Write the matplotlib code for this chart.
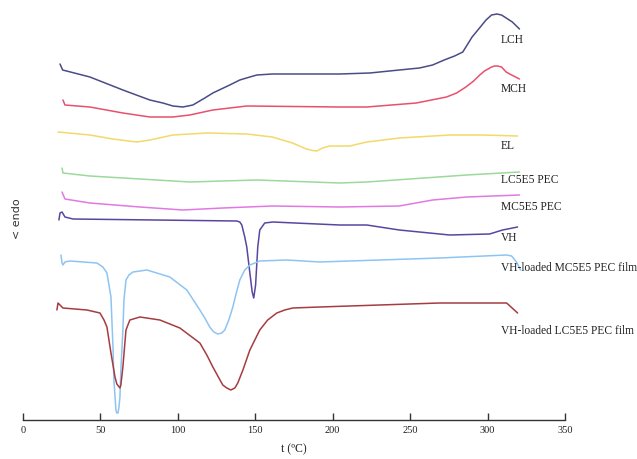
import numpy as np
import matplotlib.pyplot as plt

# DSC thermograms, heat flow in arbitrary units (curves stacked with offsets)
t_lch = [23.9, 25.6, 43.2, 64.5, 81.9, 90.3, 96.8, 103.2, 109.7, 113, 117.4, 122.6, 133.5, 140, 146.5, 151, 161, 204.5,
         224, 243, 256, 264.5, 272, 278.7, 284, 290, 294.8, 299, 302.6, 306, 309, 312, 316, 320.6]
q_lch = [356, 350, 343, 330, 320, 317, 314, 313, 315, 318, 322, 327, 335, 340, 343, 345, 346, 346,
         347, 350, 352, 355, 360, 364, 368, 383, 392, 400, 405, 406, 405, 402, 398, 391]

t_mch = [25.8, 27.1, 43.2, 64.5, 81.9, 96.8, 107.7, 122.6, 144.5, 204.5, 222, 254, 273.5, 280, 286, 291, 295, 298,
         302.6, 304.5, 306.5, 309, 312, 315.5, 320.6]
q_mch = [320, 315, 313, 307, 303, 303, 305, 310, 314, 313, 313, 317, 323, 327, 333, 339, 345, 349,
         353, 354, 354, 353, 348, 345, 341]

t_el = [22.6, 43.2, 58, 73.5, 82, 96.8, 118.7, 144.5, 161, 174, 183, 187, 189.7, 193.5, 198, 211, 222, 243, 275.5, 296.8, 319.4]
q_el = [288, 285, 281, 278, 280, 285, 287, 286, 283, 277, 271, 269.5, 269, 272, 274, 274, 278, 282, 285, 285, 284]

t_lc5e5 = [25.2, 25.8, 43.2, 75.5, 107.7, 151, 204.5, 222, 249.7, 286.5, 320.6]
q_lc5e5 = [252, 247, 244, 241, 238, 240, 237, 238, 241, 245, 248]

t_mc5e5 = [25.2, 27.1, 43.2, 75.5, 103.2, 129, 161, 204.5, 243, 264.5, 286.5, 320.6]
q_mc5e5 = [228, 221, 217, 213, 210, 212, 214, 213, 214, 220, 223, 225]

t_vh = [23.2, 23.9, 25.2, 27.1, 32.3, 138, 140, 141.3, 143.2, 144.5, 146.5, 148, 149, 150.2, 151.6, 152.9, 156.1, 161.3,
        204.5, 222, 243, 275.5, 301.3, 309.7, 319.4]
q_vh = [200, 207, 208, 203, 201, 199, 198, 195, 183, 173, 147, 128, 122, 135, 173, 190, 197, 198,
        195, 195, 190, 185, 186, 190, 193]

t_vh_mc = [24.5, 25.2, 25.8, 27.1, 30.3, 47.7, 51.6, 54.2, 56.8, 58.1, 58.7, 60, 60.6, 61.3, 61.9, 62.6, 63.2, 64.5, 65.2,
           66.5, 68.4, 71, 80, 94.8, 105.8, 114.2, 117.4, 120.6, 123.2, 125.8, 128.4, 130.3, 132.9, 135.5, 137.4, 140, 143.2,
           146.5, 152.9, 170.3, 191.6, 269, 312.3, 315.5, 318.7, 321.3]
q_vh_mc = [165, 157, 155, 158, 159, 157, 153, 147, 123, 73, 40, 10, 7, 7, 12, 23, 50, 90, 120,
           140, 145, 148, 150, 143, 130, 110, 102, 93, 88, 86, 87, 90, 100, 113, 125, 140, 150,
           155, 159, 160, 158, 162, 165, 164, 158, 150]

t_vh_lc = [21.9, 22.6, 23.9, 25.8, 41.3, 49.7, 52.3, 54.2, 55.5, 56.8, 59.4, 60.6, 62.6, 63.2, 64.5, 66.5, 69, 75.5, 88.4,
           101.3, 114.2, 118.7, 122.6, 125.8, 129, 131.6, 134.2, 136.8, 138.7, 142, 146.5, 152.9, 158, 163.9, 169, 174.2,
           191.6, 269, 312.3, 319.4]
q_vh_lc = [110, 117, 115, 112, 110, 107, 100, 93, 80, 67, 43, 36, 32, 35, 53, 90, 100, 103, 100,
           92, 77, 65, 53, 44, 35, 32, 30, 32, 37, 50, 70, 90, 100, 107, 110, 112,
           113, 117, 117, 107]

names = ['LCH', 'MCH', 'EL', 'LC5E5 PEC', 'MC5E5 PEC', 'VH',
         'VH-loaded MC5E5 PEC film', 'VH-loaded LC5E5 PEC film']
colors = ['#4a4c86', '#e8506e', '#f3d86a', '#9bd99c', '#e07ae2', '#5a46a0', '#8ec4f2', '#a63c40']
label_y = [380, 331, 274, 240, 213, 182, 152, 89]

curves = [(t_lch, q_lch), (t_mch, q_mch), (t_el, q_el), (t_lc5e5, q_lc5e5),
          (t_mc5e5, q_mc5e5), (t_vh, q_vh), (t_vh_mc, q_vh_mc), (t_vh_lc, q_vh_lc)]

fig = plt.figure(figsize=(6.37, 4.59), dpi=100)
ax = fig.add_axes([23/637, 1 - 420/459, 542/637, 415/459])

for (t, q), c in zip(curves, colors):
    ax.plot(t, q, color=c, lw=1.1, solid_capstyle='round', solid_joinstyle='round')

for name, ly in zip(names, label_y):
    ax.text(308.4, ly, name, fontsize=8.3, family='Liberation Serif',
            color='#222222', va='center', ha='left', clip_on=False)

ax.set_xlim(0, 350)
ax.set_ylim(0, 415)
for s in ['left', 'right', 'top']:
    ax.spines[s].set_visible(False)
ax.spines['bottom'].set_color('#333333')
ax.spines['bottom'].set_linewidth(1.0)
ax.set_yticks([])
ax.set_xticks(np.arange(0, 351, 50))
ax.tick_params(axis='x', direction='in', length=5, width=1, color='#333333',
               labelsize=7.5, pad=4, labelcolor='#222222')
for lab in ax.get_xticklabels():
    lab.set_family('Liberation Serif')
ax.set_xlabel('t (ºC)', family='Liberation Serif', fontsize=8.5, color='#222222', labelpad=6)

fig.text(17/637, 1 - 219/459, '< endo', rotation=90, fontsize=8, color='#333333',
         ha='center', va='center')

fig.savefig('out.png', dpi=100)
